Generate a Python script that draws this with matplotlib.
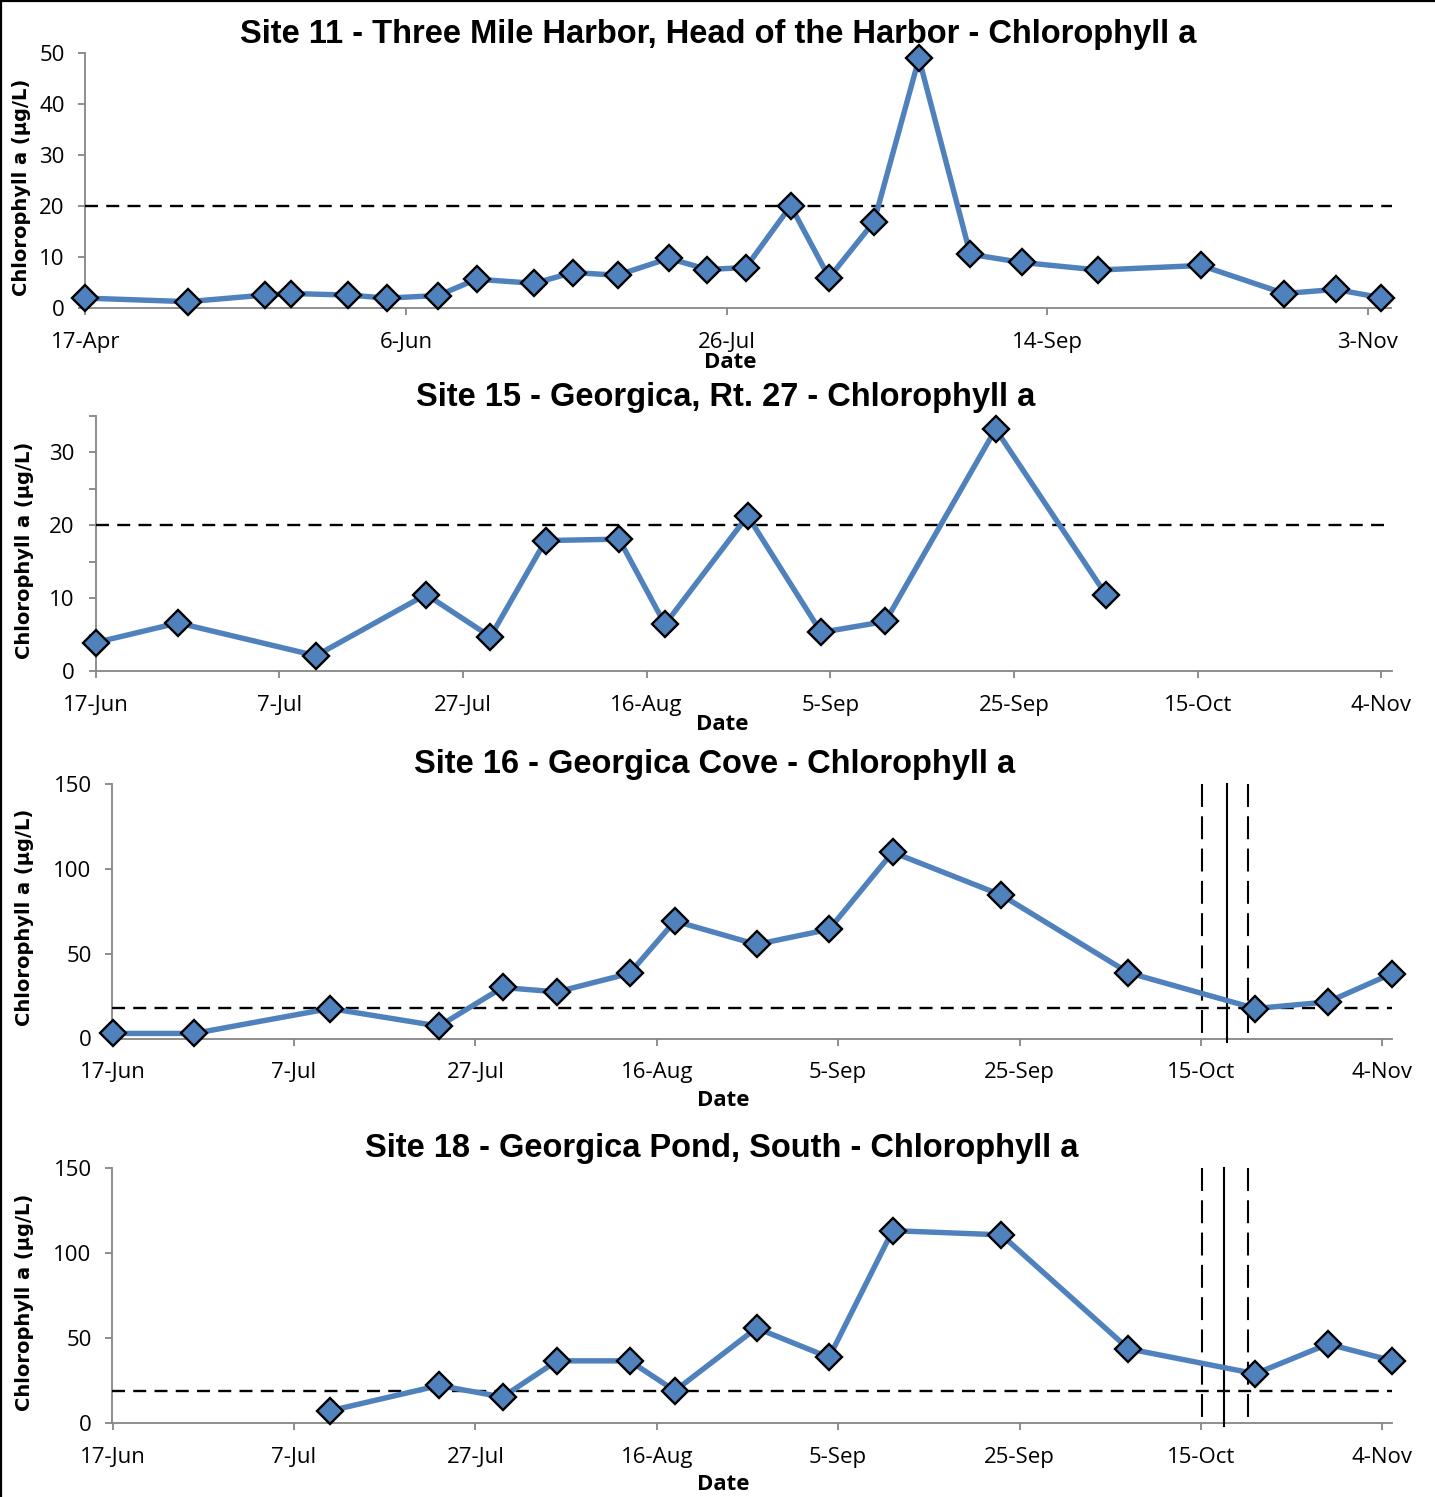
"""
Chlorophyll a time series for four monitoring sites, stacked as four panels.
"""
import matplotlib
matplotlib.use("Agg")
import matplotlib.pyplot as plt
import matplotlib.dates as mdates
from matplotlib.ticker import FixedLocator, FuncFormatter
import pandas as pd

YEAR = 2013

# ---- Site 11 - Three Mile Harbor, Head of the Harbor
s11_dates = ["17-Apr", "3-May", "15-May", "19-May", "28-May", "3-Jun", "11-Jun",
             "17-Jun", "26-Jun", "2-Jul", "9-Jul", "17-Jul", "23-Jul", "29-Jul",
             "5-Aug", "11-Aug", "18-Aug", "25-Aug", "2-Sep", "10-Sep", "22-Sep",
             "8-Oct", "21-Oct", "29-Oct", "5-Nov"]
s11_chla = [2.0, 1.3, 2.6, 2.9, 2.6, 2.0, 2.5, 5.7, 4.9, 7.0, 6.5, 9.8, 7.6, 8.0,
            20.1, 6.0, 17.0, 49.0, 10.6, 9.0, 7.5, 8.4, 2.9, 3.7, 2.1]

# ---- Site 15 - Georgica, Rt. 27
s15_dates = ["17-Jun", "26-Jun", "11-Jul", "23-Jul", "30-Jul", "5-Aug", "13-Aug",
             "18-Aug", "27-Aug", "4-Sep", "11-Sep", "23-Sep", "5-Oct"]
s15_chla = [3.9, 6.6, 2.1, 10.5, 4.7, 17.9, 18.1, 6.4, 21.3, 5.3, 6.8, 33.2, 10.5]

# ---- Site 16 - Georgica Cove
s16_dates = ["17-Jun", "26-Jun", "11-Jul", "23-Jul", "30-Jul", "5-Aug", "13-Aug",
             "18-Aug", "27-Aug", "4-Sep", "11-Sep", "23-Sep", "7-Oct", "21-Oct",
             "29-Oct", "5-Nov"]
s16_chla = [3.0, 3.0, 17.7, 7.3, 30.1, 27.5, 38.4, 69.3, 55.5, 64.4, 109.9, 84.6,
            38.8, 17.7, 21.6, 38.2]

# ---- Site 18 - Georgica Pond, South
s18_dates = ["11-Jul", "23-Jul", "30-Jul", "5-Aug", "13-Aug", "18-Aug", "27-Aug",
             "4-Sep", "11-Sep", "23-Sep", "7-Oct", "21-Oct", "29-Oct", "5-Nov"]
s18_chla = [7.2, 22.1, 15.3, 36.6, 36.6, 19.0, 55.9, 38.6, 113.3, 110.8, 43.7,
            29.0, 46.5, 36.8]

titles = ["Site 11 - Three Mile Harbor, Head of the Harbor - Chlorophyll a",
          "Site 15 - Georgica, Rt. 27 - Chlorophyll a",
          "Site 16 - Georgica Cove - Chlorophyll a",
          "Site 18 - Georgica Pond, South - Chlorophyll a"]
thresholds = [20, 20, 18.2, 18.6]            # dashed reference level per site
y_max = [50, 35, 150, 150]
y_major = [10, 10, 50, 50]
y_minor = [10, 5, 50, 50]
x_start = ["17-Apr", "17-Jun", "17-Jun", "17-Jun"]
x_span = [203.7, 141.1, 141.0, 141.0]        # days shown on the axis
x_step = [50, 20, 20, 20]                    # days between date ticks
# inlet opening window (October day, fractional) for sites 16 and 18
opening = {2: [15.1, 17.9, 20.2], 3: [15.1, 17.5, 20.2]}

# axes boxes in pixels: left, top, right, bottom
boxes = [(85.4, 53.3, 1391.5, 308.3),
         (95.5, 416.0, 1391.5, 671.0),
         (112.5, 784.3, 1391.5, 1038.5),
         (112.5, 1168.3, 1391.5, 1423.0)]
title_xy = [(718, 34), (726, 397), (715, 765), (722, 1148)]
date_xy = [(730, 362), (722, 725), (723, 1101), (723, 1485)]
ylab_xy = [(22, 187), (25, 550), (25, 917), (25, 1302)]

W, H = 1435, 1497
BLUE = "#4F81BD"
AXGRAY = "#868686"
TITLEF = ["Liberation Sans", "DejaVu Sans"]
TICKF = ["Open Sans", "DejaVu Sans"]


def to_date(s):
    return pd.to_datetime(f"{s}-{YEAR}", format="%d-%b-%Y")


def day_label(x, pos=None):
    d = mdates.num2date(x)
    return f"{d.day}-{d.strftime('%b')}"


fig = plt.figure(figsize=(W / 100, H / 100), dpi=100)
fig.patch.set_facecolor("white")

series = [(s11_dates, s11_chla), (s15_dates, s15_chla),
          (s16_dates, s16_chla), (s18_dates, s18_chla)]

for i, (dates, vals) in enumerate(series):
    l, t, r, b = boxes[i]
    ax = fig.add_axes([l / W, 1 - b / H, (r - l) / W, (b - t) / H])
    x = mdates.date2num([to_date(d) for d in dates])
    ax.plot(x, vals, color=BLUE, lw=3.9, marker="D", ms=13.5, mfc=BLUE, mec="black",
            mew=1.7, clip_on=False, zorder=4, solid_joinstyle="round")

    x0 = mdates.date2num(to_date(x_start[i]))
    ax.set_xlim(x0, x0 + x_span[i])
    ax.set_ylim(0, y_max[i])
    ticks = [x0 + k * x_step[i] for k in range(int(x_span[i] // x_step[i]) + 1)]
    ax.xaxis.set_major_locator(FixedLocator(ticks))
    ax.xaxis.set_major_formatter(FuncFormatter(day_label))

    yt = list(range(0, y_max[i] + 1, y_minor[i]))
    ax.set_yticks(yt)
    ax.set_yticklabels([str(v) if v % y_major[i] == 0 else "" for v in yt])

    ax.axhline(thresholds[i], color="black", lw=1.7, dashes=(5.5, 3.5), zorder=3)

    if i in opening:
        lo, mid, hi = [mdates.date2num(to_date("1-Oct")) + d - 1 for d in opening[i]]
        ybot = -0.012 * y_max[i]
        # drawn top-down so the dash pattern starts at the top of the axes
        for xv in (lo, hi):
            ax.plot([xv, xv], [y_max[i], ybot], color="black", lw=1.5,
                    dashes=(11, 4.5), clip_on=False, zorder=3)
        ax.plot([mid, mid], [y_max[i], ybot], color="black", lw=1.5,
                clip_on=False, zorder=3)

    for side in ("top", "right"):
        ax.spines[side].set_visible(False)
    for side in ("left", "bottom"):
        ax.spines[side].set_color(AXGRAY)
        ax.spines[side].set_linewidth(1.3)
    ax.tick_params(axis="both", direction="out", length=5, width=1.3,
                   color=AXGRAY, labelcolor="black")
    ax.tick_params(axis="x", pad=12)
    ax.tick_params(axis="y", pad=10)
    for lab in ax.get_xticklabels() + ax.get_yticklabels():
        lab.set_family(TICKF)
        lab.set_fontsize(16)
    ax.set_facecolor("none")

    fig.text(title_xy[i][0] / W, 1 - title_xy[i][1] / H, titles[i],
             ha="center", va="center", fontsize=23.5, fontweight="bold", family=TITLEF)
    fig.text(date_xy[i][0] / W, 1 - date_xy[i][1] / H, "Date",
             ha="center", va="center", fontsize=16, fontweight="bold", family=TICKF)
    fig.text(ylab_xy[i][0] / W, 1 - ylab_xy[i][1] / H, "Chlorophyll a (µg/L)",
             ha="center", va="center", rotation=90, fontsize=14,
             fontweight="bold", family=["DejaVu Sans"])

# frame edge along the top and left of the sheet
fig.add_artist(plt.Line2D([0.0008, 0.0008], [0, 1], color="black", lw=1.6))
fig.add_artist(plt.Line2D([0, 1], [0.9995, 0.9995], color="black", lw=1.6))

fig.savefig("out.png", dpi=100)
